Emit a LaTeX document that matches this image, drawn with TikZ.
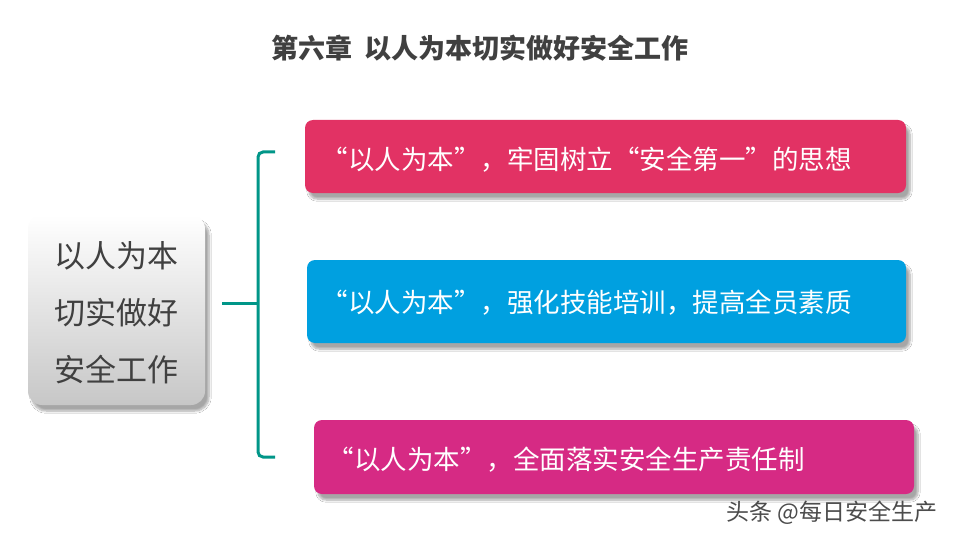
\documentclass[tikz,border=0pt]{standalone}
\usepackage{fontspec}
\setmainfont{Noto Sans CJK SC}
\usetikzlibrary{shadows,shadows.blur}
\definecolor{crim}{RGB}{226,50,100}
\definecolor{bl}{RGB}{0,160,224}
\definecolor{mag}{RGB}{214,42,132}
\definecolor{teal}{RGB}{0,150,136}
\definecolor{tx}{RGB}{64,64,64}
\tikzset{bar/.style={rounded corners=8pt,blur shadow={shadow xshift=4pt,shadow yshift=-6pt,shadow blur steps=8,shadow opacity=35}},
 bartext/.style={text=white,font=\fontsize{26.5}{30}\selectfont,anchor=west}}
\begin{document}
\begin{tikzpicture}[x=1pt,y=-1pt]
\useasboundingbox[fill=white] (0,0) rectangle (960,540);
\node (title) at (480,48) {\fontsize{27}{30}\selectfont\bfseries\color{tx}第六章\ \ 以人为本切实做好安全工作};
\node[bar,draw=none,top color=white,bottom color=black!22,minimum width=177pt,minimum height=190pt,rounded corners=14pt] (left) at (116.5,310) {};
\node[align=center,text=tx,font=\fontsize{31}{57}\selectfont] (lt) at (116.5,313) {以人为本\\切实做好\\安全工作};
\node[bar,fill=crim,minimum width=601pt,minimum height=73pt] (b1) at (605.5,156.5) {};
\node[bartext] (t1) at (318,160) {“以人为本”，牢固树立“安全第一”的思想};
\node[bar,fill=bl,minimum width=599pt,minimum height=83pt] (b2) at (606.5,301.5) {};
\node[bartext] (t2) at (318,303) {“以人为本”，强化技能培训，提高全员素质};
\node[bar,fill=mag,minimum width=600pt,minimum height=74pt] (b3) at (614,457) {};
\node[bartext] (t3) at (324,460) {“以人为本”，全面落实安全生产责任制};
\coordinate (bt) at (275,152); \coordinate (bb) at (275,457); \coordinate (bm) at (222,303);
\draw[teal,line width=3pt,rounded corners=5pt] (bt) -- (258,152) -- (258,457) -- (bb);
\draw[teal,line width=3pt] (bm) -- (258,303);
\node[text=black!70,font=\fontsize{23}{26}\selectfont] (wm) at (832,513) {头条 @每日安全生产};
\end{tikzpicture}
\end{document}
